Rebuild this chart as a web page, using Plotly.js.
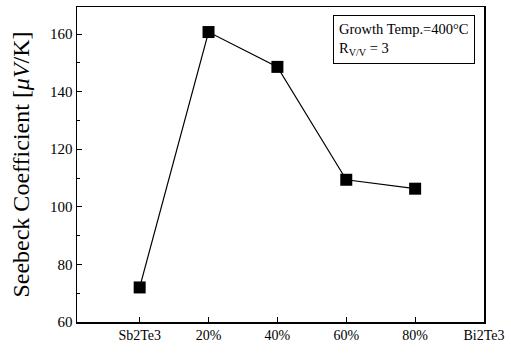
<!DOCTYPE html>
<html><head><meta charset="utf-8">
<script src="https://cdn.plot.ly/plotly-3.0.1.min.js"></script>
<style>html,body{margin:0;padding:0;background:#fff}#chart{width:511px;height:354px}</style>
</head><body><div id="chart"></div>
<script>
const compositionPos = [0, 20, 40, 60, 80];
const seebeck = [72.0, 160.7, 148.6, 109.4, 106.3];
const tickPositions = [0, 20, 40, 60, 80, 100];
const tickLabels = ["Sb2Te3", "20%", "40%", "60%", "80%", "Bi2Te3"];
const serif = "Liberation Serif, Times New Roman, serif";

const trace = {
  x: compositionPos, y: seebeck, type: "scatter", mode: "lines+markers",
  line: {color: "#000", width: 1.2},
  marker: {symbol: "square", size: 12, color: "#000"},
  cliponaxis: false, showlegend: false
};
const layout = {
  width: 511, height: 354,
  margin: {l: 77, r: 27, t: 7, b: 32},
  paper_bgcolor: "#fff", plot_bgcolor: "#fff",
  font: {family: serif, color: "#000"},
  xaxis: {
    range: [-18.2, 100], tickvals: tickPositions, ticktext: tickLabels,
    ticks: "inside", ticklen: 5, tickwidth: 1, tickcolor: "#000",
    showline: true, linecolor: "#000", linewidth: 1.5, mirror: true,
    showgrid: false, zeroline: false,
    tickfont: {family: serif, size: 14, color: "#000"}
  },
  yaxis: {
    range: [60, 169.4], tickvals: [60, 80, 100, 120, 140, 160],
    ticks: "inside", ticklen: 5, tickwidth: 1, tickcolor: "#000",
    minor: {tickvals: [70, 90, 110, 130, 150], ticks: "inside", ticklen: 3, tickcolor: "#000"},
    showline: true, linecolor: "#000", linewidth: 1.5, mirror: true,
    showgrid: false, zeroline: false,
    tickfont: {family: serif, size: 15, color: "#000"},
    title: {text: "Seebeck Coefficient [<i>μV</i>/K]", font: {family: serif, size: 24, color: "#000"}, standoff: 13}
  },
  annotations: [{
    xref: "paper", yref: "paper", x: 0.629, y: 0.975, xanchor: "left", yanchor: "top",
    text: "Growth Temp.=400°C<br>R<sub>V/V</sub> = 3", align: "left", showarrow: false,
    font: {family: serif, size: 14.5, color: "#000"},
    bordercolor: "#000", borderwidth: 1, borderpad: 5, bgcolor: "#fff"
  }]
};
Plotly.newPlot("chart", [trace], layout, {displayModeBar: false, staticPlot: true});
</script></body></html>
